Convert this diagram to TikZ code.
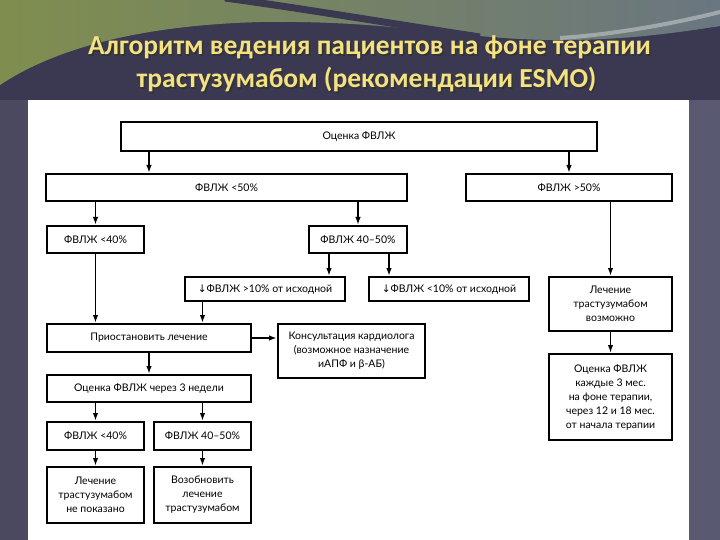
\documentclass[tikz,border=0pt]{standalone}
\usepackage{fontspec}
\setmainfont{Lato}
\newfontfamily\titlefont{Carlito}
\newfontfamily\symfont{DejaVu Sans}
\usetikzlibrary{arrows.meta,calc}
\definecolor{bgdark}{HTML}{3A3951}
\definecolor{bgleft}{HTML}{4A495F}
\definecolor{bgright}{HTML}{5A5972}
\definecolor{topgreen}{HTML}{7F8E4E}
\definecolor{topgrey}{HTML}{6A7680}
\definecolor{titleyellow}{HTML}{F4E184}
\tikzset{
  box/.style={draw=black, line width=2pt, fill=white, inner sep=1pt, align=center,
    text=black, font=\fontsize{10.5}{14}\selectfont},
  arr/.style={line width=1.8pt, -{Latex[length=8pt,width=5.5pt]}},
  ttl/.style={font=\titlefont\bfseries\fontsize{27.5}{33}\selectfont, anchor=base}
}
\begin{document}
\begin{tikzpicture}[x=1pt,y=-1pt]
\useasboundingbox (0,0) rectangle (720,540);
% background
\shade[left color=bgleft, right color=bgright] (0,0) rectangle (720,540);
\fill[bgdark] (0,85) .. controls (60,45) and (150,25) .. (260,22) .. controls (400,20) and (460,40) .. (560,40) .. controls (630,40) and (680,32) .. (720,26) -- (720,100) -- (0,100) -- cycle;
\shade[left color=topgreen, right color=topgrey] (0,0) -- (720,0) -- (720,26) .. controls (680,32) and (630,40) .. (560,40) .. controls (460,40) and (400,20) .. (260,22) .. controls (150,25) and (60,45) .. (0,85) -- cycle;
\draw[line width=7pt, bgdark] (225,-2) .. controls (300,8) and (400,25) .. (480,37);
\draw[line width=4pt, white!60!topgrey, opacity=0.6] (560,38) .. controls (620,34) and (680,22) .. (720,12);
% white panel
\fill[white] (28,100) rectangle (689,540);
% title
\node[ttl, text=black!80] (t1s) at (371,56.5) {Алгоритм ведения пациентов на фоне терапии};
\node[ttl, text=titleyellow] (t1) at (369.5,55) {Алгоритм ведения пациентов на фоне терапии};
\node[ttl, text=black!80] (t2s) at (368,89.5) {трастузумабом (рекомендации ESMO)};
\node[ttl, text=titleyellow] (t2) at (366.5,88) {трастузумабом (рекомендации ESMO)};
% boxes
\node[box, minimum width=476pt, minimum height=29pt] (top) at (359,136.5) {Оценка ФВЛЖ};
\node[box, minimum width=361pt, minimum height=27pt] (lt50) at (226.5,187.5) {ФВЛЖ <50\%};
\node[box, minimum width=206pt, minimum height=27pt] (gt50) at (569,187.5) {ФВЛЖ >50\%};
\node[box, minimum width=97pt, minimum height=27pt] (lt40) at (95.5,239.5) {ФВЛЖ <40\%};
\node[box, minimum width=98pt, minimum height=27pt] (mid) at (358,239.5) {ФВЛЖ 40–50\%};
\node[box, minimum width=160pt, minimum height=24pt] (dec) at (265,289) {{\symfont ↓}ФВЛЖ >10\% от исходной};
\node[box, minimum width=160pt, minimum height=24pt] (inc) at (449,289) {{\symfont ↓}ФВЛЖ <10\% от исходной};
\node[box, minimum width=123pt, minimum height=54pt] (poss) at (610.5,304) {Лечение\\трастузумабом\\возможно};
\node[box, minimum width=204pt, minimum height=28pt] (stop) at (149,338) {Приостановить лечение};
\node[box, minimum width=147pt, minimum height=54pt] (cons) at (351.5,351) {Консультация кардиолога\\(возможное назначение\\иАПФ и β-АБ)};
\node[box, minimum width=204pt, minimum height=27pt] (eval) at (149,388.5) {Оценка ФВЛЖ через 3 недели};
\node[box, minimum width=97pt, minimum height=28pt] (lt40b) at (95.5,436) {ФВЛЖ <40\%};
\node[box, minimum width=97pt, minimum height=28pt] (midb) at (202.5,436) {ФВЛЖ 40–50\%};
\node[box, minimum width=97pt, minimum height=56pt] (nope) at (95.5,495) {Лечение\\трастузумабом\\не показано};
\node[box, minimum width=97pt, minimum height=56pt] (resume) at (202.5,495) {Возобновить\\лечение\\трастузумабом};
\node[box, minimum width=123pt, minimum height=86pt] (every) at (610.5,397) {Оценка ФВЛЖ\\каждые 3 мес.\\на фоне терапии,\\через 12 и 18 мес.\\от начала терапии};
% connectors
\draw[arr] (top.south -| stop) -- (lt50.north -| stop);
\draw[arr] (top.south -| gt50) -- (gt50.north);
\draw[arr] (lt50.south -| lt40) -- (lt40.north);
\draw[arr] (lt50.south -| mid) -- (mid.north);
\draw[arr] (lt40.south) -- (stop.north -| lt40);
\draw[arr] ([xshift=-29pt]mid.south) -- ([xshift=-29pt]mid.south |- dec.north);
\draw[arr] ([xshift=31pt]mid.south) -- ([xshift=31pt]mid.south |- inc.north);
\draw[arr] (dec.south -| midb) -- (stop.north -| midb);
\draw[arr] (gt50.south -| poss) -- (poss.north);
\draw[arr] (poss.south) -- (every.north);
\draw[arr] (stop.east) -- (cons.west |- stop.east);
\draw[arr] (stop.south) -- (eval.north);
\draw[arr] (eval.south -| lt40b) -- (lt40b.north);
\draw[arr] (eval.south -| midb) -- (midb.north);
\draw[arr] (lt40b.south) -- (nope.north);
\draw[arr] (midb.south) -- (resume.north);
\end{tikzpicture}
\end{document}
